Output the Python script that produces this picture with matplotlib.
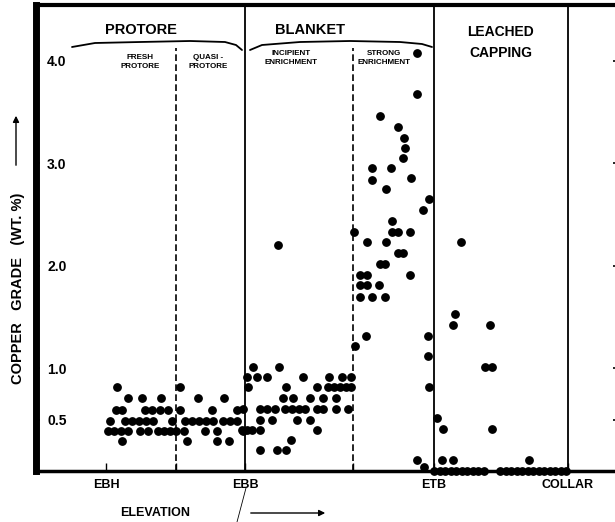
import numpy as np
import matplotlib
matplotlib.use("Agg")
import matplotlib.pyplot as plt

plt.rcParams["font.family"] = ["Liberation Sans", "DejaVu Sans"]
plt.rcParams["font.weight"] = "bold"

# copper grade (wt. %) rows per zone: (grade, [elevation positions])
fresh_rows = [
    (0.82, [117]),
    (0.71, [128, 142, 161]),
    (0.59, [116, 122, 145, 152, 160, 168]),
    (0.49, [110, 125, 132, 139, 146, 153, 172]),
    (0.39, [108, 114, 121, 128, 140, 148, 158, 164, 170, 176]),
    (0.29, [122]),
]
quasi_rows = [
    (0.82, [180]),
    (0.71, [198, 224]),
    (0.59, [180, 212, 237]),
    (0.49, [185, 192, 199, 206, 213, 223, 230, 237]),
    (0.39, [184, 205, 217, 243]),
    (0.29, [187, 217, 229]),
]
incipient_rows = [
    (2.20, [278]),
    (1.01, [253, 279]),
    (0.92, [247, 257, 267, 303, 329, 342, 351]),
    (0.82, [248, 286, 317, 328, 334, 340, 346, 351]),
    (0.71, [283, 293, 310, 323, 336]),
    (0.60, [243, 260, 267, 275, 285, 292, 299, 305, 317, 323, 336, 348]),
    (0.50, [260, 272, 297, 310]),
    (0.40, [242, 247, 252, 260, 317]),
    (0.30, [291]),
    (0.20, [260, 277, 286]),
]
strong_rows = [
    (4.07, [417]), (3.67, [417]), (3.46, [380]), (3.35, [398]),
    (3.25, [404]), (3.15, [405]), (3.05, [403]), (2.95, [372, 391]),
    (2.86, [411]), (2.84, [372]), (2.75, [386]), (2.65, [429]),
    (2.54, [423]), (2.44, [392]), (2.33, [354, 392, 398, 410]),
    (2.23, [367, 386]), (2.12, [398, 403]), (2.02, [380, 385]),
    (1.91, [360, 367, 410]), (1.81, [360, 367, 379]),
    (1.70, [360, 372, 385]), (1.32, [366, 428]), (1.22, [355]),
    (1.12, [428]), (0.82, [429]), (0.11, [417]), (0.04, [424]),
]
leached_rows = [
    (2.23, [461]), (1.53, [455]), (1.42, [453, 490]), (1.01, [485, 492]),
    (0.52, [437]), (0.41, [443, 492]), (0.11, [442, 453, 529]),
    (0.0, [434, 440, 445, 451, 456, 462, 467, 473, 478, 484,
           500, 506, 511, 517, 522, 528, 533, 539, 544, 550, 555, 561, 566]),
]

yticks = [0.5, 1.0, 2.0, 3.0, 4.0]
ytick_labels = ["0.5", "1.0", "2.0", "3.0", "4.0"]
xticks = [106, 245, 434, 568]
xtick_labels = ["EBH", "EBB", "ETB", "COLLAR"]
solid_bounds = [245, 434, 568]
dashed_bounds = [176, 353]

W, H = 615, 522
fig = plt.figure(figsize=(W / 100, H / 100), dpi=100)
ax = fig.add_axes([36 / W, 1 - 471 / H, 581 / W, 466 / H])
ax.set_xlim(36, 617)
ax.set_ylim(0, 466 / 102.6)


def px(x, y):
    return x / W, 1 - y / H


for rows in [fresh_rows, quasi_rows, incipient_rows, strong_rows, leached_rows]:
    xs = [x for g, row in rows for x in row]
    ys = [g for g, row in rows for x in row]
    ax.plot(xs, ys, "o", ms=5.3, color="black", mec="black", clip_on=False, zorder=5)

for xb in solid_bounds:
    ax.axvline(xb, color="black", lw=1.3)
for xb in dashed_bounds:
    ax.plot([xb, xb], [0, (471 - 48) / 102.6], color="black", lw=1.2, ls=(0, (4, 2)))

for side, lw in [("left", 5), ("top", 3), ("bottom", 2.5)]:
    ax.spines[side].set_linewidth(lw)
ax.spines["right"].set_visible(False)

ax.set_yticks(yticks)
ax.set_yticklabels(ytick_labels, fontsize=10, fontweight="bold")
ax.tick_params(axis="y", direction="in", length=3, width=1.2, pad=-8, right=True)
for lbl in ax.get_yticklabels():
    lbl.set_horizontalalignment("left")
ax.set_xticks(xticks)
ax.set_xticklabels(xtick_labels, fontsize=9, fontweight="bold")
ax.set_xticks(dashed_bounds, minor=True)
ax.tick_params(axis="x", which="both", direction="in", length=6, width=1.0, pad=6)

# zone headings
fig.text(*px(141, 30), "PROTORE", fontsize=10.5, fontweight="bold", ha="center", va="center")
fig.text(*px(310, 30), "BLANKET", fontsize=10.5, fontweight="bold", ha="center", va="center")
fig.text(*px(500, 32), "LEACHED", fontsize=10, fontweight="bold", ha="center", va="center")
fig.text(*px(501, 53), "CAPPING", fontsize=10, fontweight="bold", ha="center", va="center")
fig.text(*px(140, 62), "FRESH\nPROTORE", fontsize=5.8, fontweight="bold", ha="center", va="center", linespacing=1.3)
fig.text(*px(208, 62), "QUASI -\nPROTORE", fontsize=5.8, fontweight="bold", ha="center", va="center", linespacing=1.3)
fig.text(*px(291, 58), "INCIPIENT\nENRICHMENT", fontsize=5.8, fontweight="bold", ha="center", va="center", linespacing=1.3)
fig.text(*px(384, 58), "STRONG\nENRICHMENT", fontsize=5.8, fontweight="bold", ha="center", va="center", linespacing=1.3)

# curly brackets under headings
for pts in [[(72, 47), (95, 43), (140, 42), (190, 41), (225, 42), (236, 45), (242, 50)],
            [(250, 50), (262, 45), (300, 42), (350, 41), (400, 42), (422, 44), (432, 47)]]:
    bx = [px(x, y)[0] for x, y in pts]
    by = [px(x, y)[1] for x, y in pts]
    fig.add_artist(plt.Line2D(bx, by, color="black", lw=1.3, solid_capstyle="round"))

# axis titles
fig.text(*px(18, 288), "COPPER   GRADE   (WT. %)", fontsize=10.5, fontweight="bold",
         rotation=90, ha="center", va="center")
fig.add_artist(matplotlib.patches.FancyArrowPatch(px(16, 168), px(16, 113), transform=fig.transFigure,
               arrowstyle="-|>", mutation_scale=9, lw=1.0, color="black"))
fig.text(*px(155, 513), "ELEVATION", fontsize=9, fontweight="bold", ha="center", va="center")
fig.add_artist(matplotlib.patches.FancyArrowPatch(px(248, 513), px(328, 513), transform=fig.transFigure,
               arrowstyle="-|>", mutation_scale=9, lw=1.0, color="black"))
fig.add_artist(plt.Line2D([px(246, 488)[0], px(237, 522)[0]], [px(246, 488)[1], px(237, 522)[1]],
                          color="black", lw=0.6))

fig.savefig("out.png", dpi=100)
